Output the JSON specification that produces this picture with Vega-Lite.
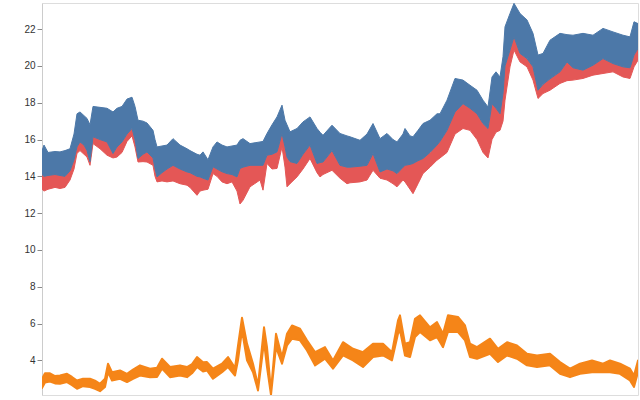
{
  "$schema": "https://vega.github.io/schema/vega-lite/v6.json",
  "autosize": "none",
  "width": 596,
  "height": 392,
  "padding": {"left": 42, "top": 3, "right": 2, "bottom": 5},
  "config": {"view": {"stroke": "#ddd"}},
  "datasets": {
    "upper": [
      {"t":0,"top":15.4,"mid":14.1,"bot":13.3},
      {"t":2,"top":15.7,"mid":14.0,"bot":13.2},
      {"t":6,"top":15.3,"mid":14.05,"bot":13.3},
      {"t":13,"top":15.35,"mid":14.1,"bot":13.4},
      {"t":18,"top":15.33,"mid":14.05,"bot":13.34},
      {"t":23,"top":15.4,"mid":14.0,"bot":13.4},
      {"t":28,"top":15.5,"mid":14.3,"bot":13.8},
      {"t":32,"top":16.3,"mid":14.9,"bot":14.4},
      {"t":35,"top":17.4,"mid":15.6,"bot":15.25},
      {"t":38,"top":17.5,"mid":15.87,"bot":15.4},
      {"t":42,"top":17.3,"mid":15.7,"bot":15.2},
      {"t":45,"top":17.15,"mid":15.4,"bot":15.05},
      {"t":48,"top":16.8,"mid":14.8,"bot":14.6},
      {"t":51,"top":17.8,"mid":16.15,"bot":15.78},
      {"t":58,"top":17.75,"mid":16.0,"bot":15.5},
      {"t":65,"top":17.7,"mid":15.87,"bot":15.15},
      {"t":71,"top":17.5,"mid":15.24,"bot":15.0},
      {"t":75,"top":17.7,"mid":15.6,"bot":15.05},
      {"t":80,"top":17.8,"mid":15.87,"bot":15.3},
      {"t":85,"top":18.2,"mid":16.3,"bot":15.9},
      {"t":90,"top":18.3,"mid":16.6,"bot":16.2},
      {"t":93,"top":17.8,"mid":16.0,"bot":15.6},
      {"t":96,"top":17.05,"mid":14.97,"bot":14.78},
      {"t":101,"top":17.0,"mid":15.2,"bot":14.8},
      {"t":105,"top":16.9,"mid":15.33,"bot":14.78},
      {"t":111,"top":16.5,"mid":15.0,"bot":14.6},
      {"t":113,"top":16.0,"mid":14.43,"bot":14.0},
      {"t":115,"top":15.6,"mid":13.97,"bot":13.7},
      {"t":120,"top":15.65,"mid":14.2,"bot":13.75},
      {"t":125,"top":15.7,"mid":14.4,"bot":13.7},
      {"t":131,"top":16.05,"mid":14.6,"bot":13.75},
      {"t":138,"top":15.7,"mid":14.4,"bot":13.6},
      {"t":145,"top":15.5,"mid":14.24,"bot":13.52},
      {"t":148,"top":15.4,"mid":14.2,"bot":13.4},
      {"t":155,"top":15.2,"mid":14.0,"bot":12.97},
      {"t":158,"top":15.15,"mid":13.97,"bot":13.2},
      {"t":161,"top":15.33,"mid":13.9,"bot":13.25},
      {"t":166,"top":14.9,"mid":13.8,"bot":13.3},
      {"t":171,"top":15.6,"mid":14.52,"bot":14.15},
      {"t":175,"top":15.87,"mid":14.4,"bot":14.0},
      {"t":180,"top":15.7,"mid":14.25,"bot":13.7},
      {"t":185,"top":15.6,"mid":14.15,"bot":13.6},
      {"t":190,"top":15.65,"mid":14.1,"bot":13.7},
      {"t":195,"top":15.7,"mid":13.97,"bot":13.2},
      {"t":198,"top":15.96,"mid":14.43,"bot":12.5},
      {"t":201,"top":16.05,"mid":14.5,"bot":12.7},
      {"t":208,"top":15.78,"mid":14.6,"bot":13.43},
      {"t":218,"top":15.87,"mid":14.6,"bot":13.8},
      {"t":221,"top":15.9,"mid":14.6,"bot":13.25},
      {"t":225,"top":16.33,"mid":15.15,"bot":14.7},
      {"t":230,"top":16.8,"mid":15.2,"bot":14.4},
      {"t":235,"top":17.23,"mid":15.33,"bot":14.43},
      {"t":240,"top":17.87,"mid":16.33,"bot":15.6},
      {"t":243,"top":17.05,"mid":15.6,"bot":14.5},
      {"t":245,"top":16.8,"mid":15.05,"bot":13.43},
      {"t":248,"top":16.42,"mid":14.8,"bot":13.6},
      {"t":255,"top":16.6,"mid":14.7,"bot":13.97},
      {"t":261,"top":16.96,"mid":15.2,"bot":14.4},
      {"t":268,"top":17.23,"mid":15.7,"bot":14.97},
      {"t":275,"top":16.6,"mid":14.7,"bot":14.2},
      {"t":278,"top":16.4,"mid":14.75,"bot":13.97},
      {"t":281,"top":16.23,"mid":14.78,"bot":14.1},
      {"t":290,"top":16.78,"mid":15.4,"bot":14.33},
      {"t":298,"top":16.33,"mid":14.6,"bot":13.9},
      {"t":305,"top":16.2,"mid":14.5,"bot":13.6},
      {"t":308,"top":16.15,"mid":14.5,"bot":13.65},
      {"t":318,"top":15.96,"mid":14.55,"bot":13.7},
      {"t":325,"top":16.3,"mid":14.6,"bot":13.8},
      {"t":331,"top":16.87,"mid":15.24,"bot":14.33},
      {"t":338,"top":16.05,"mid":14.24,"bot":13.9},
      {"t":345,"top":16.33,"mid":14.4,"bot":13.8},
      {"t":351,"top":16.0,"mid":14.3,"bot":13.6},
      {"t":355,"top":15.87,"mid":14.15,"bot":13.43},
      {"t":361,"top":16.3,"mid":14.5,"bot":13.8},
      {"t":363,"top":16.6,"mid":14.6,"bot":13.7},
      {"t":368,"top":16.2,"mid":14.65,"bot":13.3},
      {"t":371,"top":16.15,"mid":14.7,"bot":13.06},
      {"t":376,"top":16.5,"mid":14.85,"bot":13.6},
      {"t":381,"top":16.87,"mid":14.97,"bot":14.15},
      {"t":388,"top":17.05,"mid":15.3,"bot":14.5},
      {"t":395,"top":17.4,"mid":15.7,"bot":14.88},
      {"t":398,"top":17.4,"mid":15.9,"bot":15.0},
      {"t":405,"top":18.14,"mid":16.5,"bot":15.3},
      {"t":413,"top":19.32,"mid":17.5,"bot":16.3},
      {"t":421,"top":19.23,"mid":17.95,"bot":16.6},
      {"t":428,"top":18.95,"mid":17.7,"bot":16.5},
      {"t":435,"top":18.68,"mid":17.4,"bot":16.0},
      {"t":441,"top":18.14,"mid":16.87,"bot":15.3},
      {"t":446,"top":17.77,"mid":16.6,"bot":15.0},
      {"t":450,"top":19.4,"mid":17.95,"bot":16.0},
      {"t":454,"top":19.68,"mid":17.7,"bot":16.4},
      {"t":458,"top":19.4,"mid":17.4,"bot":16.5},
      {"t":461,"top":20.5,"mid":18.5,"bot":17.0},
      {"t":463,"top":22.13,"mid":20.0,"bot":18.14},
      {"t":468,"top":22.85,"mid":20.86,"bot":19.95},
      {"t":472,"top":23.4,"mid":21.58,"bot":20.86},
      {"t":478,"top":22.85,"mid":20.68,"bot":20.22},
      {"t":485,"top":22.5,"mid":20.4,"bot":19.95},
      {"t":491,"top":21.77,"mid":19.95,"bot":19.23},
      {"t":496,"top":20.59,"mid":18.68,"bot":18.23},
      {"t":501,"top":20.68,"mid":19.0,"bot":18.5},
      {"t":508,"top":21.4,"mid":19.3,"bot":18.68},
      {"t":518,"top":21.77,"mid":19.68,"bot":19.05},
      {"t":525,"top":21.7,"mid":20.22,"bot":19.2},
      {"t":531,"top":21.67,"mid":19.9,"bot":19.23},
      {"t":541,"top":21.77,"mid":19.77,"bot":19.32},
      {"t":551,"top":21.67,"mid":20.04,"bot":19.5},
      {"t":561,"top":22.04,"mid":20.4,"bot":19.59},
      {"t":571,"top":21.85,"mid":20.13,"bot":19.68},
      {"t":581,"top":21.67,"mid":19.95,"bot":19.4},
      {"t":588,"top":21.58,"mid":19.9,"bot":19.32},
      {"t":592,"top":22.4,"mid":20.59,"bot":19.95},
      {"t":596,"top":22.3,"mid":20.95,"bot":20.31}
    ],
    "lower": [
      {"t":0,"hi":3.0,"lo":2.5},
      {"t":3,"hi":3.3,"lo":2.8},
      {"t":8,"hi":3.3,"lo":2.85},
      {"t":13,"hi":3.15,"lo":2.75},
      {"t":18,"hi":3.18,"lo":2.73},
      {"t":25,"hi":3.27,"lo":2.82},
      {"t":30,"hi":3.1,"lo":2.65},
      {"t":35,"hi":2.91,"lo":2.46},
      {"t":41,"hi":3.0,"lo":2.6},
      {"t":48,"hi":3.0,"lo":2.55},
      {"t":53,"hi":2.9,"lo":2.45},
      {"t":58,"hi":2.73,"lo":2.33},
      {"t":63,"hi":3.0,"lo":2.55},
      {"t":66,"hi":3.82,"lo":3.36},
      {"t":70,"hi":3.36,"lo":2.91},
      {"t":78,"hi":3.45,"lo":3.0},
      {"t":85,"hi":3.27,"lo":2.82},
      {"t":91,"hi":3.5,"lo":3.0},
      {"t":98,"hi":3.73,"lo":3.18},
      {"t":108,"hi":3.55,"lo":3.09},
      {"t":115,"hi":3.6,"lo":3.1},
      {"t":120,"hi":4.09,"lo":3.55},
      {"t":128,"hi":3.64,"lo":3.09},
      {"t":138,"hi":3.73,"lo":3.18},
      {"t":145,"hi":3.64,"lo":3.09},
      {"t":150,"hi":3.8,"lo":3.3},
      {"t":155,"hi":4.18,"lo":3.64},
      {"t":161,"hi":3.9,"lo":3.4},
      {"t":165,"hi":3.91,"lo":3.45},
      {"t":171,"hi":3.55,"lo":3.0},
      {"t":180,"hi":3.82,"lo":3.36},
      {"t":186,"hi":4.18,"lo":3.64},
      {"t":193,"hi":3.6,"lo":3.18},
      {"t":196,"hi":4.8,"lo":4.0},
      {"t":200,"hi":6.32,"lo":5.63},
      {"t":205,"hi":4.91,"lo":4.0},
      {"t":211,"hi":3.82,"lo":3.36},
      {"t":216,"hi":2.64,"lo":2.37},
      {"t":222,"hi":5.8,"lo":4.99},
      {"t":225,"hi":4.72,"lo":3.64},
      {"t":229,"hi":2.37,"lo":2.12},
      {"t":234,"hi":5.45,"lo":4.72},
      {"t":240,"hi":4.18,"lo":3.82},
      {"t":245,"hi":5.45,"lo":4.81},
      {"t":250,"hi":5.9,"lo":5.18},
      {"t":258,"hi":5.72,"lo":5.09},
      {"t":265,"hi":5.09,"lo":4.54},
      {"t":273,"hi":4.45,"lo":3.73},
      {"t":283,"hi":4.72,"lo":4.09},
      {"t":291,"hi":4.0,"lo":3.55},
      {"t":301,"hi":4.99,"lo":4.27},
      {"t":311,"hi":4.63,"lo":4.0},
      {"t":321,"hi":4.45,"lo":3.64},
      {"t":331,"hi":4.91,"lo":4.18},
      {"t":341,"hi":4.91,"lo":4.27},
      {"t":350,"hi":4.45,"lo":4.0},
      {"t":356,"hi":6.17,"lo":5.45},
      {"t":358,"hi":6.45,"lo":5.63},
      {"t":363,"hi":4.91,"lo":4.27},
      {"t":368,"hi":4.99,"lo":4.18},
      {"t":373,"hi":6.26,"lo":5.27},
      {"t":378,"hi":6.45,"lo":5.54},
      {"t":388,"hi":5.8,"lo":5.09},
      {"t":395,"hi":6.08,"lo":5.27},
      {"t":401,"hi":5.45,"lo":4.72},
      {"t":406,"hi":6.45,"lo":5.54},
      {"t":416,"hi":6.36,"lo":5.54},
      {"t":423,"hi":5.9,"lo":5.09},
      {"t":428,"hi":4.91,"lo":4.18},
      {"t":435,"hi":4.72,"lo":4.09},
      {"t":448,"hi":5.18,"lo":4.36},
      {"t":456,"hi":4.63,"lo":3.91},
      {"t":465,"hi":4.99,"lo":4.27},
      {"t":475,"hi":4.81,"lo":4.09},
      {"t":485,"hi":4.36,"lo":3.73},
      {"t":495,"hi":4.27,"lo":3.64},
      {"t":508,"hi":4.36,"lo":3.73},
      {"t":518,"hi":3.91,"lo":3.27},
      {"t":528,"hi":3.55,"lo":3.09},
      {"t":538,"hi":3.82,"lo":3.27},
      {"t":550,"hi":4.0,"lo":3.36},
      {"t":561,"hi":3.82,"lo":3.36},
      {"t":568,"hi":4.0,"lo":3.36},
      {"t":578,"hi":3.82,"lo":3.27},
      {"t":588,"hi":3.55,"lo":2.91},
      {"t":592,"hi":3.18,"lo":2.55},
      {"t":596,"hi":4.0,"lo":3.36}
    ]
  },
  "layer": [
    {
      "data": {"name": "upper"},
      "mark": {"type": "area", "color": "#e45756", "stroke": "#e45756", "strokeWidth": 1, "clip": true},
      "encoding": {
        "x": {"field": "t", "type": "quantitative", "axis": null, "scale": {"domain": [0, 596], "nice": false, "zero": false}},
        "y": {"field": "mid", "type": "quantitative", "scale": {"domain": [2.12, 23.42], "nice": false, "zero": false},
              "axis": {"title": null, "grid": false, "values": [4, 6, 8, 10, 12, 14, 16, 18, 20, 22], "domainColor": "#ccc", "tickColor": "#888", "labelColor": "#333"}},
        "y2": {"field": "bot"}
      }
    },
    {
      "data": {"name": "upper"},
      "mark": {"type": "area", "color": "#4c78a8", "stroke": "#4c78a8", "strokeWidth": 1, "clip": true},
      "encoding": {
        "x": {"field": "t", "type": "quantitative"},
        "y": {"field": "top", "type": "quantitative"},
        "y2": {"field": "mid"}
      }
    },
    {
      "data": {"name": "lower"},
      "mark": {"type": "area", "color": "#f58518", "stroke": "#f58518", "strokeWidth": 2, "strokeJoin": "round", "clip": true},
      "encoding": {
        "x": {"field": "t", "type": "quantitative"},
        "y": {"field": "hi", "type": "quantitative"},
        "y2": {"field": "lo"}
      }
    }
  ]
}
